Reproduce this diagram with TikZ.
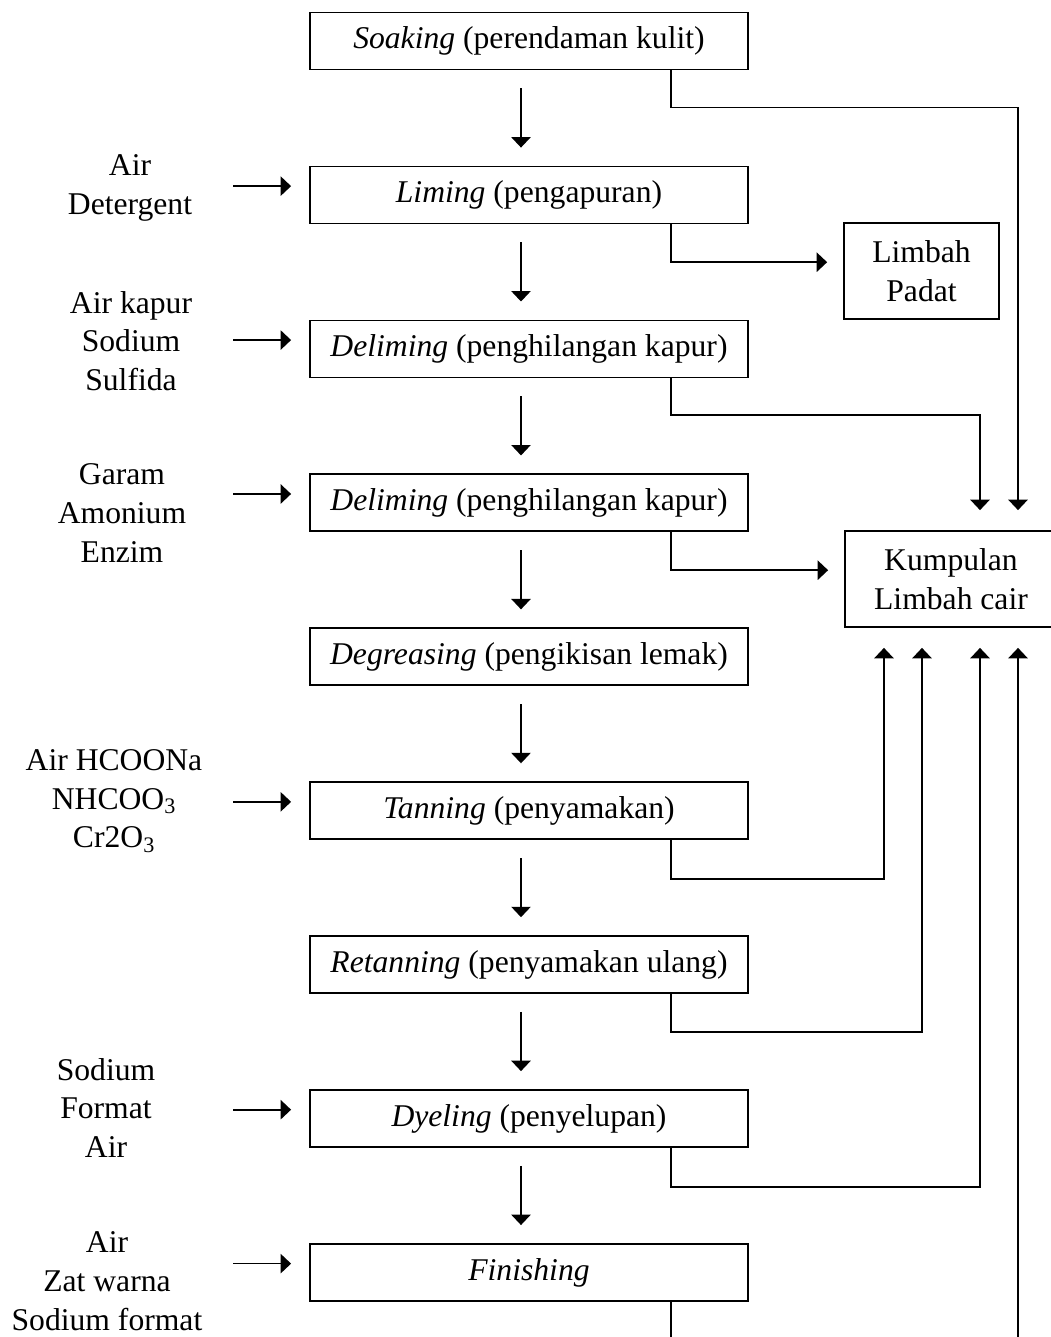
\documentclass[tikz,border=0pt]{standalone}
\usepackage{fontspec}
\setmainfont{Liberation Serif}
\usepackage{tikz}
\usetikzlibrary{arrows.meta, positioning}

\begin{document}
\begin{tikzpicture}[
  x=0.025cm, y=-0.025cm,
  font=\fontsize{22.5}{27.5}\selectfont,
  node distance=2.38cm,
  line width=1.2pt,
  stage/.style={draw, minimum width=10.95cm, minimum height=1.425cm, inner sep=2pt},
  waste/.style={draw, align=center, minimum height=2.4cm, inner sep=3pt},
  input/.style={align=center, inner sep=1pt},
  arr/.style={-{Triangle[length=0.26cm, width=0.48cm]}},
  down/.style={arr, shorten <=0.45cm, shorten >=0.45cm}
]
\useasboundingbox (0,0) rectangle (1051,1337);

\node[stage] (soak) at (529,41) {\textit{Soaking} (perendaman kulit)};
\node[stage, below=of soak] (lim) {\textit{Liming} (pengapuran)};
\node[stage, below=of lim] (delimA) {\textit{Deliming} (penghilangan kapur)};
\node[stage, below=of delimA] (delimB) {\textit{Deliming} (penghilangan kapur)};
\node[stage, below=of delimB] (degr) {\textit{Degreasing} (pengikisan lemak)};
\node[stage, below=of degr] (tan) {\textit{Tanning} (penyamakan)};
\node[stage, below=of tan] (retan) {\textit{Retanning} (penyamakan ulang)};
\node[stage, below=of retan] (dye) {\textit{Dyeling} (penyelupan)};
\node[stage, below=of dye] (fin) {\textit{Finishing}};

\node[waste, minimum width=3.875cm] (padat) at (921.5,271) {Limbah\\ Padat};
\node[waste, minimum width=5.3cm] (kum) at (951,579) {Kumpulan\\ Limbah cair};

\node[input] (inLim) at (130,188) {Air\\ Detergent};
\node[input] (inDelA) at (131,341) {Air kapur\\ Sodium\\ Sulfida};
\node[input] (inDelB) at (122,513) {Garam\\ Amonium\\ Enzim};
\node[input] (inTan) at (114,801) {Air HCOONa\\ NHCOO\textsubscript{3}\\ Cr2O\textsubscript{3}};
\node[input] (inDye) at (106,1108) {Sodium\\ Format\\ Air};
\node[input] (inFin) at (107,1281) {Air\\ Zat warna\\ Sodium format};

\foreach \a/\b in {soak/lim, lim/delimA, delimA/delimB, delimB/degr, degr/tan, tan/retan, retan/dye, dye/fin}
  \draw[down] ([xshift=-0.2cm]\a.south) -- ([xshift=-0.2cm]\b.north);

\foreach \s in {lim, delimA, delimB, tan, dye, fin}
  \draw[arr] ([xshift=-1.9cm, yshift=0.22cm]\s.west) -- ([xshift=-0.45cm, yshift=0.22cm]\s.west);

\draw[arr, shorten >=0.5cm] ([xshift=-1.95cm]soak.south east) -- ++(0,-0.925cm) -| ([xshift=1.675cm]kum.north);
\draw[arr, shorten >=0.4cm] ([xshift=-1.95cm]lim.south east) |- ([yshift=0.22cm]padat.west);
\draw[arr, shorten >=0.5cm] ([xshift=-1.95cm]delimA.south east) -- ++(0,-0.925cm) -| ([xshift=0.725cm]kum.north);
\draw[arr, shorten >=0.4cm] ([xshift=-1.95cm]delimB.south east) |- ([yshift=0.22cm]kum.west);
\draw[arr, shorten >=0.5cm] ([xshift=-1.95cm]tan.south east) -- ++(0,-0.975cm) -| ([xshift=-1.675cm]kum.south);
\draw[arr, shorten >=0.5cm] ([xshift=-1.95cm]retan.south east) -- ++(0,-0.95cm) -| ([xshift=-0.725cm]kum.south);
\draw[arr, shorten >=0.5cm] ([xshift=-1.95cm]dye.south east) -- ++(0,-0.975cm) -| ([xshift=0.725cm]kum.south);
\draw[arr, shorten >=0.5cm] ([xshift=-1.95cm]fin.south east) -- ++(0,-1.5cm) -| ([xshift=1.675cm]kum.south);
\end{tikzpicture}
\end{document}
